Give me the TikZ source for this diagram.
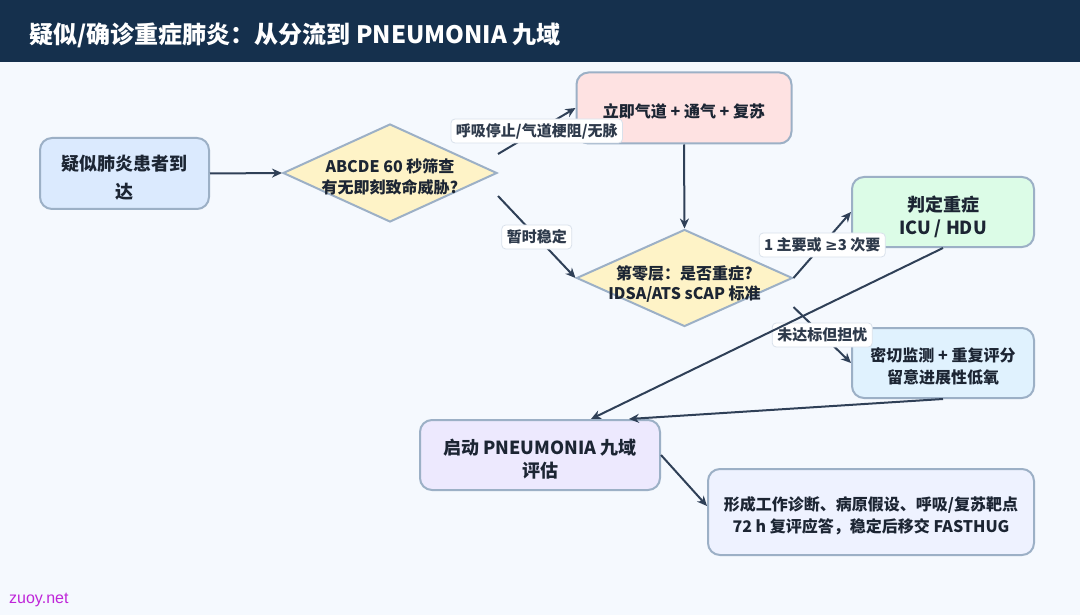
\documentclass[tikz,border=0pt]{standalone}
\usepackage{fontspec}
\setmainfont{Noto Sans CJK SC}
\newfontfamily\sitefont{Liberation Sans}
\newfontfamily\symfont{DejaVu Sans}
\usetikzlibrary{shapes.geometric,arrows.meta}
\definecolor{barbg}{HTML}{15304D}
\definecolor{pagebg}{HTML}{F5F9FE}
\definecolor{rim}{HTML}{9CB0C6}
\definecolor{ink}{HTML}{2F4057}
\definecolor{txt}{HTML}{1C2533}
\definecolor{lbltxt}{HTML}{2E3A4B}
\definecolor{lblrim}{HTML}{D9E1EB}
\definecolor{bluefill}{HTML}{DBEAFE}
\definecolor{diafill}{HTML}{FEF3C7}
\definecolor{pinkfill}{HTML}{FEE2E2}
\definecolor{greenfill}{HTML}{DCFCE7}
\definecolor{skyfill}{HTML}{E0F2FE}
\definecolor{violetfill}{HTML}{EDE9FE}
\definecolor{indigofill}{HTML}{EEF2FF}
\definecolor{sitec}{HTML}{BF26D9}
\newcommand\up{\rule{0pt}{1.35em}}
\begin{document}
\begin{tikzpicture}[x=1pt,y=-1pt,>={Stealth[length=10pt,width=9pt]}]
    \tikzstyle{box}=[draw=rim, line width=2pt, rounded corners=12pt, align=center, text=txt, font=\bfseries\fontsize{16}{22}\selectfont]
    \tikzstyle{big}=[font=\bfseries\fontsize{18}{23}\selectfont]
    \tikzstyle{dia}=[diamond, draw=rim, line width=2pt, fill=diafill, inner sep=0pt]
    \tikzstyle{dtext}=[align=center, text=txt, font=\bfseries\fontsize{16}{20.5}\selectfont, yshift=-4pt]
    \tikzstyle{lbl}=[fill=white, draw=lblrim, line width=0.8pt, rounded corners=4pt, inner xsep=5pt, inner ysep=0pt, minimum height=24pt, text=lbltxt, font=\bfseries\fontsize{15}{18}\selectfont]
    \tikzstyle{arr}=[->, draw=ink, line width=2pt]
    \fill[pagebg] (0,0) rectangle (1080,615);
    \fill[barbg] (0,0) rectangle (1080,62);
    \node[anchor=west, text=white, font=\bfseries\fontsize{24}{28}\selectfont] (title) at (26,35) {疑似/确诊重症肺炎：从分流到 PNEUMONIA 九域};
    % boxes
    \node[box, fill=bluefill, minimum width=169pt, minimum height=71pt, font=\bfseries\fontsize{18}{28}\selectfont] (arrive) at (124.5,173.5) {\up 疑似肺炎患者到\\达};
    \node[dia, minimum width=214pt, minimum height=98pt, label={[dtext]center:ABCDE 60 秒筛查\\有无即刻致命威胁?}] (abcde) at (390,173) {};
    \node[box, fill=pinkfill, minimum width=215pt, minimum height=71pt] (resus) at (684,108) {\up 立即气道 + 通气 + 复苏};
    \node[dia, minimum width=216pt, minimum height=97pt, label={[dtext, yshift=-2pt]center:第零层：是否重症?\\IDSA/ATS sCAP 标准}] (tier0) at (684.5,278) {};
    \node[box, big, fill=greenfill, minimum width=182pt, minimum height=70pt] (icu) at (943,212) {\up 判定重症\\ICU / HDU};
    \node[box, fill=skyfill, minimum width=182pt, minimum height=70pt] (monitor) at (943,363) {\up 密切监测 + 重复评分\\留意进展性低氧};
    \node[box, big, fill=violetfill, minimum width=240pt, minimum height=70pt] (nine) at (540,455) {\up 启动 PNEUMONIA 九域\\评估};
    \node[box, fill=indigofill, minimum width=326pt, minimum height=86pt] (plan) at (871,512) {\up 形成工作诊断、病原假设、呼吸/复苏靶点\\72 h 复评应答，稳定后移交 FASTHUG};
    % arrows
    \draw[arr] (arrive.east) -- (abcde.west);
    \draw[arr] ([yshift=19pt]abcde.east) -- (resus.west) node[lbl, midway] (l1) {呼吸停止/气道梗阻/无脉};
    \draw[arr] ([yshift=-23pt]abcde.east) -- (tier0.west) node[lbl, midway] (l2) {暂时稳定};
    \draw[arr] (resus.south) -- (tier0.north);
    \draw[arr] (tier0.east) -- (icu.west) node[lbl, midway] (l3) {1 主要或 {\symfont ≥}3 次要};
    \draw[arr] ([yshift=-29pt]tier0.east) -- (monitor.west) node[lbl, midway] (l4) {未达标但担忧};
    \draw[arr] (icu.south) -- ([xshift=51pt]nine.north);
    \draw[arr] (monitor.south) -- ([xshift=89pt]nine.north);
    \draw[arr] (nine.east) -- ([yshift=6pt]plan.west);
    \node[anchor=west, inner sep=0pt, text=sitec, font=\sitefont\fontsize{16}{18}\selectfont] (site) at (9,600) {zuoy.net};
\end{tikzpicture}
\end{document}
